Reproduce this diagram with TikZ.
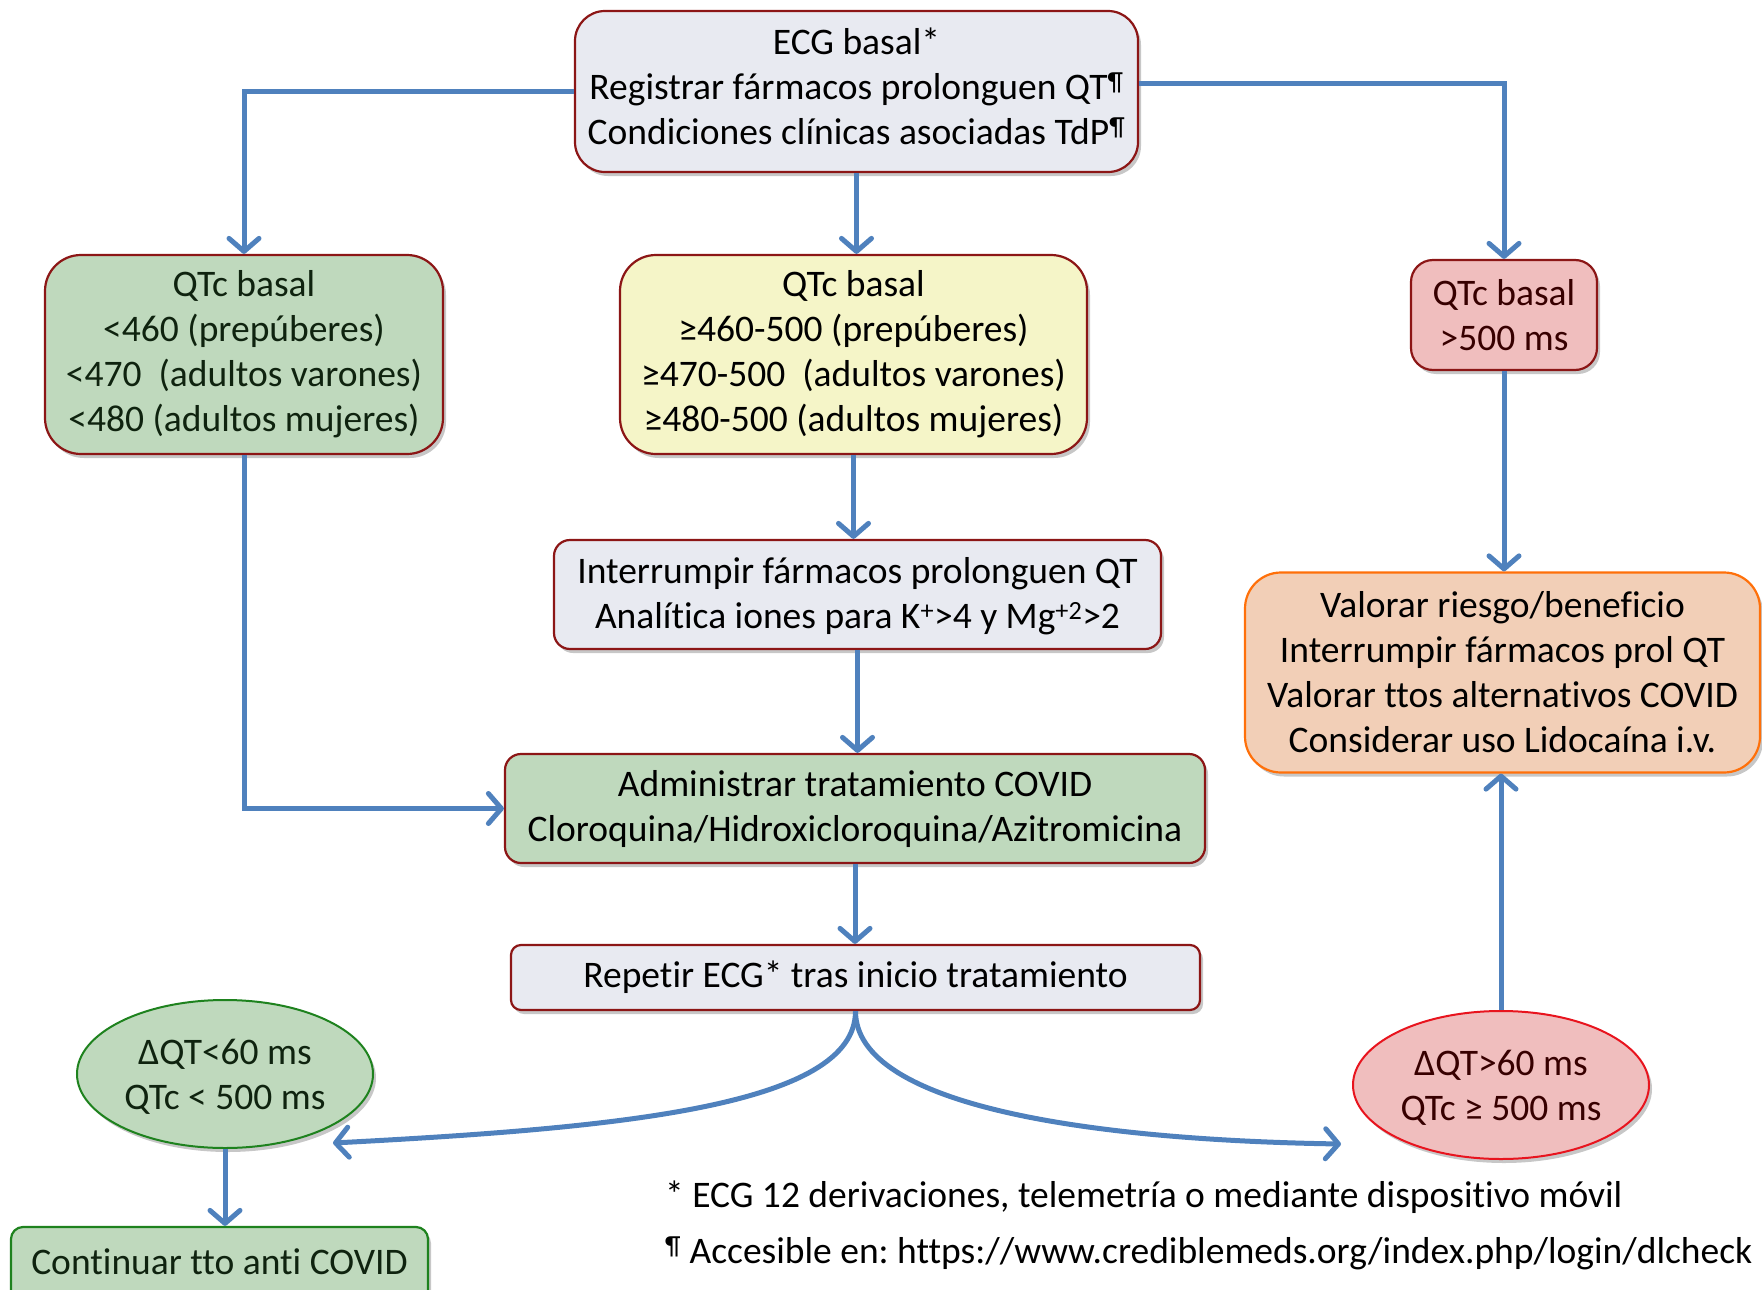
\documentclass[tikz,border=0pt]{standalone}
\usepackage{fontspec}
\setmainfont[Ligatures=NoCommon]{Carlito}
\usetikzlibrary{arrows.meta,shapes.geometric,shadows,calc}
\frenchspacing
\definecolor{arrowblue}{RGB}{79,129,189}
\definecolor{boxgray}{RGB}{232,234,241}
\definecolor{darkred}{RGB}{140,22,22}
\definecolor{lgreen}{RGB}{191,217,189}
\definecolor{lyellow}{RGB}{245,245,200}
\definecolor{lpink}{RGB}{240,190,190}
\definecolor{lpeach}{RGB}{242,207,183}
\definecolor{orangeb}{RGB}{255,112,10}
\definecolor{greenb}{RGB}{30,130,30}
\definecolor{redb}{RGB}{232,20,30}
\definecolor{greentext}{RGB}{15,35,15}
\definecolor{redtext}{RGB}{55,0,0}
\begin{document}
\begin{tikzpicture}[x=1pt,y=-1pt,
  every node/.style={font=\fontsize{37.5}{45}\selectfont, align=center, inner sep=0pt},
  shade/.style={drop shadow={shadow xshift=3pt,shadow yshift=-4pt,opacity=0.22,fill=black}},
  boxbase/.style={rectangle, draw=darkred, line width=2.2pt, shade},
  graybox/.style={boxbase, fill=boxgray},
  greenbox/.style={boxbase, fill=lgreen, text=greentext},
  yellowbox/.style={boxbase, fill=lyellow},
  pinkbox/.style={boxbase, fill=lpink, text=redtext},
  peachbox/.style={rectangle, draw=orangeb, line width=2.2pt, fill=lpeach, shade},
  ell/.style={ellipse, minimum width=296pt, minimum height=148pt, line width=2pt, shade},
  conn/.style={draw=arrowblue, line width=5pt, -{Straight Barb[length=13pt,width=30pt,line width=5pt,round]}},
  foot/.style={anchor=west, font=\fontsize{37.5}{44}\selectfont}
]
\path[use as bounding box] (0,0) rectangle (1762,1290);
\clip (0,0) rectangle (1762,1290);

% nodes
\node[graybox, rounded corners=30pt, minimum width=563pt, minimum height=161pt] (top) at (856.5,91.5)
  {\raisebox{5pt}[\height][\depth]{\parbox{540pt}{\centering ECG basal*\\Registrar fármacos prolonguen QT\textsuperscript{¶}\\Condiciones clínicas asociadas TdP\textsuperscript{¶}}}};
\node[greenbox, rounded corners=36pt, minimum width=398pt, minimum height=199pt] (lg) at (244,354.5)
  {QTc basal\\<460 (prepúberes)\\<470\ \ (adultos varones)\\<480 (adultos mujeres)};
\node[yellowbox, rounded corners=36pt, minimum width=467pt, minimum height=199pt] (yl) at (853.5,354.5)
  {QTc basal\\≥460-500 (prepúberes)\\≥470-500\ \ (adultos varones)\\≥480-500 (adultos mujeres)};
\node[pinkbox, rounded corners=22pt, minimum width=186pt, minimum height=110pt] (rd) at (1504,315)
  {QTc basal\\>500 ms};
\node[graybox, rounded corners=16pt, minimum width=607pt, minimum height=109pt] (int) at (857.5,594.5)
  {\raisebox{-2pt}[\height][\depth]{\parbox{590pt}{\centering Interrumpir fármacos prolonguen QT\\Analítica iones para K\textsuperscript{+}>4 y Mg\textsuperscript{+2}>2}}};
\node[greenbox, text=black, rounded corners=16pt, minimum width=700pt, minimum height=109pt] (adm) at (855,808.5)
  {Administrar tratamiento COVID\\Cloroquina/Hidroxicloroquina/Azitromicina};
\node[graybox, rounded corners=10pt, minimum width=689pt, minimum height=65pt] (rep) at (855.5,977.5)
  {Repetir ECG* tras inicio tratamiento};
\node[peachbox, rounded corners=36pt, minimum width=515pt, minimum height=200pt] (val) at (1502.5,672.5)
  {Valorar riesgo/beneficio\\Interrumpir fármacos prol QT\\Valorar ttos alternativos COVID\\Considerar uso Lidocaína i.v.};
\node[ell, draw=greenb, fill=lgreen, text=greentext] (ge) at (225,1074)
  {\raisebox{-3.5pt}[\height][\depth]{\begin{tabular}{@{}c@{}}ΔQT<60 ms\\QTc < 500 ms\end{tabular}}};
\node[ell, draw=redb, fill=lpink, text=redtext] (re) at (1501,1085)
  {\raisebox{-3.5pt}[\height][\depth]{\begin{tabular}{@{}c@{}}ΔQT>60 ms\\QTc ≥ 500 ms\end{tabular}}};
\node[boxbase, draw=greenb, fill=lgreen, rounded corners=12pt, minimum width=417pt, minimum height=86pt] (cont) at (219.5,1270) {};
\node[text=greentext] (conttext) at (219.5,1262) {Continuar tto anti COVID};

\node[foot] (f1) at (665,1197) {* ECG 12 derivaciones, telemetría o mediante dispositivo móvil};
\node[foot] (f2) at (665,1253) {\textsuperscript{¶} Accesible en: https://www.crediblemeds.org/index.php/login/dlcheck};

% connectors
\coordinate (lend) at (333,1143);
\coordinate (rend) at (1341,1144);
\draw[conn] (top.west) -| (lg.north);
\draw[conn] ([yshift=7.5pt]top.east) -| (rd.north);
\draw[conn] (top.south) -- (top.south |- yl.north);
\draw[conn] (lg.south) |- (adm.west);
\draw[conn] (yl.south) -- (yl.south |- int.north);
\draw[conn] (int.south) -- (int.south |- adm.north);
\draw[conn] (adm.south) -- (adm.south |- rep.north);
\draw[conn] (rd.south) -- (rd.south |- val.north);
\draw[conn] (re.north) -- (re.north |- val.south);
\draw[conn] (rep.south) .. controls ($(rep.south)+(0,95)$) and (620,1128) .. (lend);
\draw[conn] (rep.south) .. controls ($(rep.south)+(0,95)$) and (1090,1140) .. (rend);
\draw[conn] (ge.south) -- (ge.south |- cont.north);
\end{tikzpicture}
\end{document}
